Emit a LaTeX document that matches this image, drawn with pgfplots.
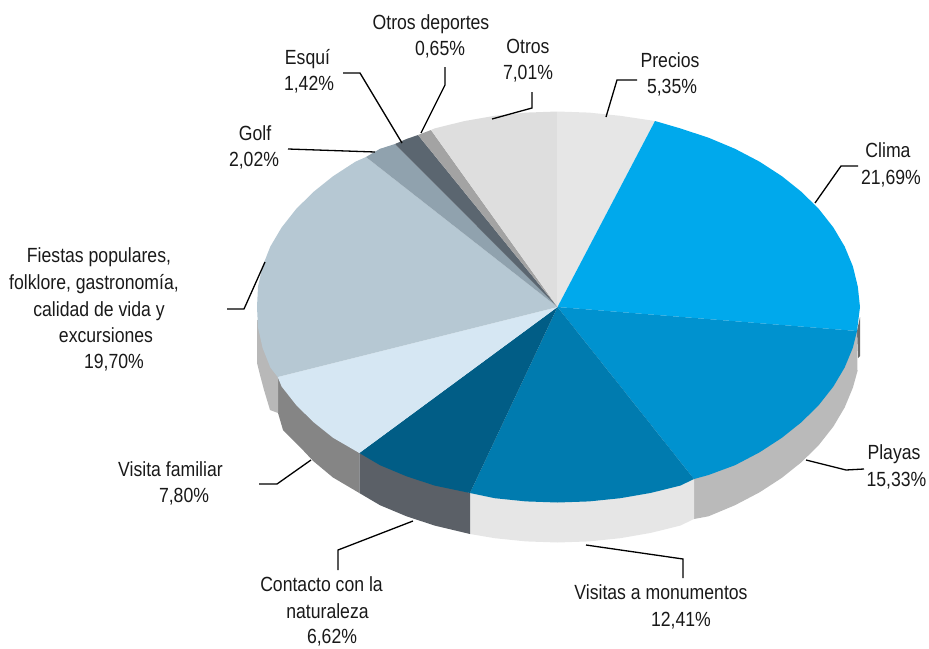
\documentclass[border=0pt]{standalone}
\usepackage{pgfplots}
\usepackage{fontspec}
\setmainfont[FakeStretch=0.86]{Liberation Sans}
\pgfplotsset{compat=1.18}
\definecolor{cPrecios}{HTML}{E6E6E6}
\definecolor{cClima}{HTML}{00A9EC}
\definecolor{cPlayas}{HTML}{0092CF}
\definecolor{cVisitas}{HTML}{007BAF}
\definecolor{cContacto}{HTML}{015D86}
\definecolor{cFamiliar}{HTML}{D6E7F3}
\definecolor{cFiestas}{HTML}{B6C8D3}
\definecolor{cGolf}{HTML}{90A2AE}
\definecolor{cEsqui}{HTML}{5B6670}
\definecolor{cDeportes}{HTML}{A3A3A3}
\definecolor{cOtros}{HTML}{DEDEDE}
\definecolor{wContacto}{HTML}{5B6067}
\newcommand{\lab}[3]{\node[anchor=base,inner sep=0pt,font=\fontsize{20.5pt}{24pt}\selectfont,text=black!90] at (axis cs:#1,#2) {#3};}
\begin{document}
\begin{tikzpicture}
\path[use as bounding box] (0,0) rectangle (929pt,648pt);
\begin{axis}[at={(0,0)},anchor=south west,scale only axis,width=929pt,height=648pt,
  xmin=0,xmax=929,ymin=0,ymax=648,y dir=reverse,hide axis,clip=false,
  every axis plot/.append style={no markers}]
% side walls
\addplot[fill=black!58,draw=none] coordinates {(860,317)(860,356)(858,358)(857,331)} --cycle;
\addplot[fill=black!27,draw=none] coordinates {(857,331)(857.5,371)(852.9,387.6)(844.7,407.4)(833.4,426.5)(819,444.8)(801.8,461.9)(781.9,477.8)(759.6,492.3)(735,505.2)(708.5,516.3)(694,519)(694,479)} --cycle;
\addplot[fill=cPrecios,draw=none] coordinates {(694,479)(694,519)(680.3,525.6)(650.8,532.9)(620.3,538.2)(589.1,541.4)(557.5,542.5)(525.9,541.4)(494.7,538.2)(470,534)(470,493)} --cycle;
\addplot[fill=wContacto,draw=none] coordinates {(470,493)(470,534)(434.7,525.6)(406.5,516.3)(380,505.2)(359.3,493)(359.3,453)} --cycle;
\addplot[fill=black!48,draw=none] coordinates {(359.3,453)(359.3,493)(333,477.5)(313.2,461)(300,447)(283,430)(278,413)(278,377)} --cycle;
\addplot[fill=black!28,draw=none] coordinates {(278,377)(278,413)(270,410)(264,390)(260,375)(257,363)(257,320)(300,320)} --cycle;
% top wedges
\addplot[fill=cPrecios,draw=none] coordinates {(557.5,307)(557.5,111.5)(589.1,112.6)(620.3,115.8)(655,121)} --cycle;
\addplot[fill=cClima,draw=none] coordinates {(557.5,307)(655,121)(680.3,128.4)(708.5,137.7)(735,148.8)(759.6,161.7)(781.9,176.2)(801.8,192.1)(819,209.2)(833.4,227.5)(844.7,246.6)(852.9,266.4)(857.8,286.6)(860,307)(857,331)} --cycle;
\addplot[fill=cPlayas,draw=none] coordinates {(557.5,307)(857,331)(852.9,347.6)(844.7,367.4)(833.4,386.5)(819,404.8)(801.8,421.9)(781.9,437.8)(759.6,452.3)(735,465.2)(708.5,475)(694,479)} --cycle;
\addplot[fill=cVisitas,draw=none] coordinates {(557.5,307)(694,479)(680.3,485.6)(650.8,492.9)(620.3,498.2)(589.1,501.4)(557.5,502.5)(525.9,501.4)(494.7,498.2)(470,493)} --cycle;
\addplot[fill=cContacto,draw=none] coordinates {(557.5,307)(470,493)(434.7,485.6)(406.5,476.3)(380,465.2)(359.3,453)} --cycle;
\addplot[fill=cFamiliar,draw=none] coordinates {(557.5,307)(359.3,453)(333.1,437.8)(313.2,421.9)(296,404.8)(281.6,386.5)(277.7,377)} --cycle;
\addplot[fill=cFiestas,draw=none] coordinates {(557.5,307)(277.7,377)(270.3,367.4)(262.5,347.6)(258,327.4)(257,307)(258,286.6)(262.5,266.4)(270.3,246.6)(281.6,227.5)(296,209.2)(313.2,192.1)(333.1,176.2)(355.4,161.7)(366,157)} --cycle;
\addplot[fill=cGolf,draw=none] coordinates {(557.5,307)(366,157)(380,148.8)(395,144)} --cycle;
\addplot[fill=cEsqui,draw=none] coordinates {(557.5,307)(395,144)(406.5,139)(418,135)} --cycle;
\addplot[fill=cDeportes,draw=none] coordinates {(557.5,307)(418,135)(431,130)} --cycle;
\addplot[fill=cOtros,draw=none] coordinates {(557.5,307)(431,130)(434.7,128.4)(464.2,121.1)(494.7,115.8)(525.9,112.6)(557.5,111.5)} --cycle;
% leader lines
\addplot[black,line width=1.3pt] coordinates {(606,117)(617,80)(637,80)};
\addplot[black,line width=1.3pt] coordinates {(492,119)(532,108)(532,92)};
\addplot[black,line width=1.3pt] coordinates {(421,133)(445,85)(445,67)};
\addplot[black,line width=1.3pt] coordinates {(402,143)(360,73)(343,73)};
\addplot[black,line width=1.3pt] coordinates {(375,152)(288,149)};
\addplot[black,line width=1.3pt] coordinates {(815,203)(841,166)(858,166)};
\addplot[black,line width=1.3pt] coordinates {(265,262)(244,309)(227,309)};
\addplot[black,line width=1.3pt] coordinates {(311,460)(277,484)(259,484)};
\addplot[black,line width=1.3pt] coordinates {(413,521)(338,550)(338,570)};
\addplot[black,line width=1.3pt] coordinates {(586,545)(683,559)(683,578)};
\addplot[black,line width=1.3pt] coordinates {(806,460)(846,470)(864,469)};
% labels
\lab{431}{29}{Otros deportes}
\lab{440}{55}{0,65\%}
\lab{307.5}{64}{Esquí}
\lab{309}{90}{1,42\%}
\lab{528}{53}{Otros}
\lab{528}{79}{7,01\%}
\lab{670}{67}{Precios}
\lab{672}{93}{5,35\%}
\lab{888}{157}{Clima}
\lab{891}{184}{21,69\%}
\lab{255}{140}{Golf}
\lab{254}{166}{2,02\%}
\lab{99}{262}{Fiestas populares,}
\lab{94}{289}{folklore, gastronomía,}
\lab{99}{316}{calidad de vida y}
\lab{106}{342}{excursiones}
\lab{114}{368}{19,70\%}
\lab{170.5}{476}{Visita familiar}
\lab{184}{502}{7,80\%}
\lab{321.5}{591}{Contacto con la}
\lab{327.5}{618}{naturaleza}
\lab{332}{643}{6,62\%}
\lab{661}{599}{Visitas a monumentos}
\lab{681}{626}{12,41\%}
\lab{894}{459}{Playas}
\lab{896.5}{486}{15,33\%}
\end{axis}
\end{tikzpicture}
\end{document}
